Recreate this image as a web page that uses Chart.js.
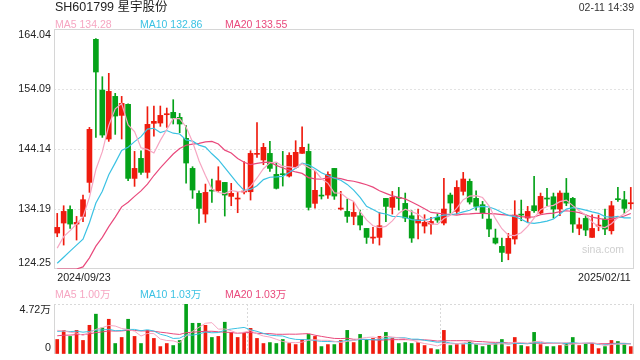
<!DOCTYPE html>
<html><head><meta charset="utf-8">
<script src="https://cdn.jsdelivr.net/npm/chart.js@4.4.0/dist/chart.umd.min.js"></script>
<style>
body{margin:0;width:640px;height:360px;background:#fff;overflow:hidden;position:relative;font-family:"Liberation Sans",Arial,"Noto Sans CJK SC",sans-serif;color:#333}
.t{position:absolute;white-space:nowrap;line-height:1}
canvas{position:absolute;left:0}
#main{top:0}
#vol{top:286px}
</style></head><body>
<canvas id="main" width="640" height="286"></canvas>
<canvas id="vol" width="640" height="74"></canvas>
<div class="t" style="left:55px;top:1px;font-size:12.5px;color:#222">SH601799 星宇股份</div>
<div class="t" style="right:6px;top:1.5px;font-size:10.5px;color:#333">02-11 14:39</div>
<div id="leg1"></div>
<div id="leg2"></div>
<div class="t" style="left:582px;top:244px;font-size:10.5px;color:#cfcfcf">sina.com</div>
<script>
// ---- data ----
const dates = ["2024/09/23","2024/09/24","2024/09/25","2024/09/26","2024/09/27","2024/09/30",
"2024/10/08","2024/10/09","2024/10/10","2024/10/11","2024/10/14","2024/10/15","2024/10/16","2024/10/17","2024/10/18","2024/10/21","2024/10/22","2024/10/23","2024/10/24","2024/10/25","2024/10/28","2024/10/29","2024/10/30","2024/10/31",
"2024/11/01","2024/11/04","2024/11/05","2024/11/06","2024/11/07","2024/11/08","2024/11/11","2024/11/12","2024/11/13","2024/11/14","2024/11/15","2024/11/18","2024/11/19","2024/11/20","2024/11/21","2024/11/22","2024/11/25","2024/11/26","2024/11/27","2024/11/28","2024/11/29",
"2024/12/02","2024/12/03","2024/12/04","2024/12/05","2024/12/06","2024/12/09","2024/12/10","2024/12/11","2024/12/12","2024/12/13","2024/12/16","2024/12/17","2024/12/18","2024/12/19","2024/12/20","2024/12/23","2024/12/24","2024/12/25","2024/12/26","2024/12/27","2024/12/30","2024/12/31",
"2025/01/02","2025/01/03","2025/01/06","2025/01/07","2025/01/08","2025/01/09","2025/01/10","2025/01/13","2025/01/14","2025/01/15","2025/01/16","2025/01/17","2025/01/20","2025/01/21","2025/01/22","2025/01/23","2025/01/24","2025/01/27",
"2025/02/05","2025/02/06","2025/02/07","2025/02/10","2025/02/11"];
const opens = [130.21,131.87,134.13,131.70,132.97,138.61,162.33,153.92,145.80,152.87,
149.72,151.55,139.27,142.59,140.27,148.40,148.45,149.83,150.22,149.39,
145.91,140.93,136.79,133.36,137.34,137.23,138.61,136.29,135.85,137.01,
137.06,143.26,142.32,143.42,139.94,139.99,139.66,141.10,143.42,143.75,
135.13,136.45,136.51,140.93,134.19,133.80,132.97,133.08,130.98,129.38,
129.49,135.96,134.47,136.07,135.13,133.08,131.87,131.37,131.70,132.81,
131.87,136.51,133.80,137.12,138.78,135.96,134.91,132.53,129.38,128.00,
126.84,129.22,133.30,132.70,134.74,133.52,135.96,136.23,134.19,136.84,
135.96,130.98,132.64,129.49,131.37,132.53,130.59,135.90,135.74,135.07];
const highs = [133.47,134.74,134.74,132.97,136.51,147.73,162.45,156.13,156.69,153.37,
152.87,151.65,143.75,143.86,151.16,151.27,151.27,150.94,152.32,150.05,
148.01,141.21,137.23,138.33,139.17,141.21,138.61,138.45,136.95,142.04,
143.86,148.51,145.08,145.41,141.93,143.75,143.53,145.52,147.84,144.97,
140.43,137.78,140.38,140.93,137.12,135.85,135.29,134.02,130.98,131.15,
133.63,135.96,137.12,137.78,136.84,133.91,134.19,133.25,132.81,133.36,
139.27,136.84,138.89,140.27,139.17,137.23,135.46,134.30,130.87,129.38,
130.15,135.57,135.68,134.63,139.61,136.84,137.62,136.84,137.23,139.27,
136.12,132.70,133.19,133.25,133.19,134.19,135.46,137.78,137.12,137.78];
const lows = [129.60,128.22,130.98,129.05,132.09,136.95,146.07,146.07,145.41,146.57,
145.80,138.89,137.95,139.94,139.33,146.29,147.90,147.73,148.29,146.85,
138.50,135.96,131.81,131.98,135.29,137.12,133.03,134.74,133.58,136.68,
135.68,142.76,141.54,140.43,137.51,138.00,139.50,140.93,143.42,134.02,
134.35,135.85,135.96,135.79,134.02,131.98,131.59,130.71,128.49,128.49,
128.22,132.09,133.36,134.02,132.09,128.66,129.22,130.21,130.04,131.98,
131.54,133.52,133.36,136.51,135.02,134.02,132.64,129.60,128.38,125.45,
125.78,128.38,132.25,131.98,133.63,133.36,134.74,132.70,133.08,134.74,
130.32,129.93,129.77,129.49,130.59,129.93,130.04,135.46,133.47,134.19];
const closes = [131.15,133.80,131.70,131.98,135.74,147.40,156.91,146.46,153.70,149.61,
151.71,139.27,140.93,140.27,148.23,148.73,149.72,149.89,149.28,148.29,
141.82,137.34,134.30,136.95,137.17,138.89,136.51,136.79,135.96,137.12,
143.42,143.42,144.42,140.93,137.62,139.88,143.09,143.59,144.42,134.47,
137.29,136.34,139.94,136.34,134.30,132.97,133.64,131.54,129.49,129.43,
131.42,134.63,136.12,135.96,132.70,129.38,132.42,131.98,132.14,132.36,
134.19,135.18,137.78,139.17,135.35,134.63,133.58,130.87,128.55,127.00,
129.33,133.19,133.19,133.80,133.91,136.29,135.85,134.19,136.84,135.18,
131.70,131.59,130.71,130.98,131.48,130.87,134.74,135.74,134.30,135.24];
// volume in 万
const volumes = [1.37,2.23,1.66,2.23,1.28,2.71,3.76,2.46,3.28,0.99,
1.56,3.28,1.66,0.99,2.23,1.47,0.70,0.99,0.80,1.28,
4.72,2.90,2.90,2.71,1.56,1.66,3.00,2.04,1.56,2.04,
2.42,1.47,0.99,1.08,0.99,1.37,0.99,0.89,1.37,1.85,
1.66,0.70,0.89,0.89,1.28,2.23,1.08,1.85,1.37,1.47,
1.66,2.04,1.47,0.99,1.08,0.99,1.08,0.80,0.51,0.41,
2.23,0.80,0.89,0.89,1.18,0.89,0.70,0.89,0.99,1.37,
0.70,1.56,0.80,0.70,2.04,0.89,0.70,0.70,0.80,0.99,
1.56,0.80,0.99,0.99,0.51,0.70,1.28,1.18,0.89,0.70];
// sessions before the first visible day (estimated from where the MA lines start)
const priorCloses = [118.6,118.2,117.9,118.3,117.5,118.0,117.6,117.9,118.1,117.7,123.8,121.7,122.0,125.7,120.3,124.3,126.7,126.5,129.9];
const priorVolumes = [1.2,1.4,1.3,1.1,1.5,1.3,1.2,1.4,1.3,1.3,2.0,2.1,1.9,2.2,2.03,2.5,2.3,2.6,2.4];
const priceTicks = [124.25,134.19,144.14,154.09,164.04];
const volumeTicks = [0,4.72];
const maPeriods = [5,10,20];
const maColors = ['#f6a6c2','#3cc2e3','#e9497c'];
const priceLegend = ['MA5 134.28','MA10 132.86','MA20 133.55'];
const volumeLegend = ['MA5 1.00万','MA10 1.03万','MA20 1.03万'];

// ---- drawing ----
const UP = '#ef1b0e', DOWN = '#05a219';
const candleColors = closes.map((c,i)=> c >= opens[i] ? UP : DOWN);
function movingAverage(prior, series, n){
  const all = prior.concat(series);
  return series.map((_,i)=>{const end=prior.length+i;let s=0;for(let k=end-n+1;k<=end;k++)s+=all[k];return s/n;});
}
const pMin = priceTicks[0], pMax = priceTicks[priceTicks.length-1];
const vMin = volumeTicks[0], vMax = volumeTicks[volumeTicks.length-1];

function legend(id, top, texts){
  const lefts=[55,140,225];
  document.getElementById(id).innerHTML = texts.map((t,i)=>
    `<div class="t" style="left:${lefts[i]}px;top:${top}px;font-size:10.5px;color:${maColors[i]}">${t}</div>`).join('');
}
legend('leg1', 18.8, priceLegend);
legend('leg2', 289.4, volumeLegend);

Chart.defaults.font.family = '"Liberation Sans", Arial, "Noto Sans CJK SC", sans-serif';
Chart.defaults.font.size = 10.7;
Chart.defaults.color = '#333';

const frame = {
  id:'frame',
  beforeDatasetsDraw(chart, args, opts){
    const {ctx, chartArea:a} = chart;
    ctx.save(); ctx.strokeStyle = opts.color; ctx.lineWidth = 1;
    ctx.beginPath();
    (opts.sides||'tlrb').split('').forEach(s=>{
      if(s==='t'){ctx.moveTo(a.left, a.top+0.5);ctx.lineTo(a.right, a.top+0.5);}
      if(s==='b'){ctx.moveTo(a.left, a.bottom-0.5);ctx.lineTo(a.right, a.bottom-0.5);}
      if(s==='l'){ctx.moveTo(a.left+0.5, a.top);ctx.lineTo(a.left+0.5, a.bottom);}
      if(s==='r'){ctx.moveTo(a.right-0.5, a.top);ctx.lineTo(a.right-0.5, a.bottom);}
    });
    ctx.stroke(); ctx.restore();
  }
};
const fixY = s=>{ s.width = 54; s.paddingTop = 0; s.paddingBottom = 0; };

const priceMA = maPeriods.map(n=>movingAverage(priorCloses, closes, n));
new Chart(document.getElementById('main'), {
  data:{
    labels: dates,
    datasets:[
      ...priceMA.map((m,k)=>({type:'line', data:m.map(v=>Math.max(v,pMin)), borderColor:maColors[k], borderWidth:1.2, pointRadius:0, tension:0, order:1})),
      {type:'bar', data:opens.map((o,i)=>[o,closes[i]]), backgroundColor:candleColors, barThickness:5, minBarLength:1, grouped:false, order:2},
      {type:'bar', data:lows.map((l,i)=>[l,highs[i]]), backgroundColor:candleColors, barThickness:1, grouped:false, order:3}
    ]
  },
  options:{
    responsive:false, animation:false, events:[],
    layout:{padding:{top:29,right:6,left:0,bottom:0}},
    plugins:{legend:{display:false}, tooltip:{enabled:false}, frame:{color:'#d6d6d6', sides:'tlrb'}},
    scales:{
      x:{type:'category', offset:true, grid:{display:false, drawTicks:false}, border:{display:false},
         ticks:{autoSkip:false, maxRotation:0, minRotation:0, padding:3, align:'inner', color:'#222',
           callback:(v,i)=> (i===0||i===dates.length-1) ? dates[i] : ''},
         afterFit:s=>{s.height=17;}},
      y:{type:'linear', min:pMin, max:pMax, position:'left',
         afterBuildTicks:s=>{s.ticks = priceTicks.map(v=>({value:v}));},
         afterFit:fixY,
         grid:{drawTicks:false, lineWidth:1, color:c=> (c.index===0||c.index===priceTicks.length-1)?'rgba(0,0,0,0)':'#e3e3e3'},
         border:{display:false, dash:[2,2]},
         ticks:{autoSkip:false, padding:3, color:'#222', font:{lineHeight:'11.5px'},
           callback:(v,i)=> i===priceTicks.length-1 ? ['',v.toFixed(2)] : (i===0 ? [v.toFixed(2),''] : v.toFixed(2))}}
    }
  },
  plugins:[frame]
});

const volMA = maPeriods.map(n=>movingAverage(priorVolumes, volumes, n));
new Chart(document.getElementById('vol'), {
  data:{
    labels: dates,
    datasets:[
      ...volMA.map((m,k)=>({type:'line', data:m, borderColor:maColors[k], borderWidth:1, pointRadius:0, tension:0, order:1, xAxisID:'x'})),
      {type:'bar', data:volumes, backgroundColor:candleColors, barThickness:3, grouped:false, order:2, xAxisID:'x'}
    ]
  },
  options:{
    responsive:false, animation:false, events:[],
    layout:{padding:{top:18,right:6,left:0,bottom:6}},
    plugins:{legend:{display:false}, tooltip:{enabled:false}, frame:{color:'#d6d6d6', sides:'lr'}},
    scales:{
      x:{type:'category', offset:true, display:false},
      x2:{type:'linear', min:0, max:3, position:'bottom',
          ticks:{display:false, stepSize:1}, grid:{drawTicks:false, color:c=>(c.tick.value===1||c.tick.value===2)?'#d9d9d9':'rgba(0,0,0,0)'},
          border:{display:false, dash:[2,2]}, afterFit:s=>{s.height=0; s.paddingLeft=0; s.paddingRight=0;}},
      y:{type:'linear', min:vMin, max:vMax, position:'left',
         afterBuildTicks:s=>{s.ticks = volumeTicks.map(v=>({value:v}));},
         afterFit:fixY,
         grid:{drawTicks:false, color:c=> c.index===volumeTicks.length-1 ? '#d9d9d9' : 'rgba(0,0,0,0)'},
         border:{display:false, dash:[2,2]},
         ticks:{autoSkip:false, padding:3, color:'#222', font:{lineHeight:'12.5px'},
           callback:(v,i)=> i===0 ? [String(v),''] : ['', v+'万']}}
    }
  },
  plugins:[frame]
});
</script>
</body></html>
